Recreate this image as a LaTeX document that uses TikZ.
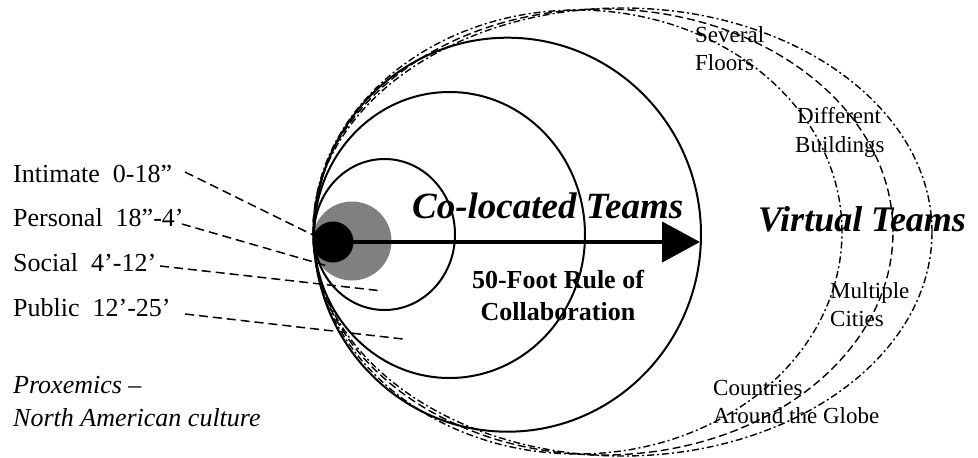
\documentclass[tikz,border=0pt]{standalone}
\usepackage{fontspec}
\setmainfont{Liberation Serif}
\usetikzlibrary{arrows.meta}
\tikzset{
  ring/.style={draw=black, line width=2pt},
  dashdotline/.style={draw=black, line width=1.4pt, dash pattern=on 7pt off 3pt on 2pt off 3pt},
  dashline/.style={draw=black, line width=1.4pt, dash pattern=on 8pt off 4pt},
  leader/.style={draw=black, line width=1.5pt, dash pattern=on 9pt off 5pt},
  lbl/.style={anchor=base west, inner sep=0pt, font=\fontsize{26}{31}\selectfont},
  small/.style={anchor=base west, inner sep=0pt, font=\fontsize{23}{27}\selectfont},
  big/.style={anchor=base west, inner sep=0pt, font=\fontsize{37}{44}\selectfont\bfseries\itshape},
  rule/.style={anchor=base, inner sep=0pt, font=\fontsize{26}{31}\selectfont\bfseries},
  mainarrow/.style={draw=black, line width=4.5pt, -{Triangle[length=38pt,width=40pt]}}
}
\begin{document}
\begin{tikzpicture}[x=1pt,y=-1pt]
\useasboundingbox (0,0) rectangle (978,458);
% proximity discs
\node[circle, fill=black!50, minimum size=79pt, inner sep=0pt] (gray) at (352,241) {};
\node[circle, fill=black, minimum size=41pt, inner sep=0pt] (dot) at (333,242) {};
% solid circles
\draw[ring] (384.5,234.5) ellipse [x radius=70.5pt, y radius=75.5pt];
\draw[ring] (449.5,235) ellipse [x radius=135.5pt, y radius=143pt];
\draw[ring] (507.5,234.7) ellipse [x radius=193.5pt, y radius=197pt];
% dashed ellipses
\draw[dashdotline] (577.5,232) ellipse [x radius=264.5pt, y radius=222pt];
\draw[dashline] (603,232) ellipse [x radius=290pt, y radius=223pt];
\draw[dashdotline] (622.5,232) ellipse [x radius=309.5pt, y radius=224pt];
% arrow
\coordinate (tip) at (700,242);
\draw[mainarrow] (dot.center) -- (tip);
% left labels
\node[lbl] (intimate) at (13,182) {Intimate\ \ 0-18”};
\node[lbl] (personal) at (13,226) {Personal\ \ 18”-4’};
\node[lbl] (social) at (13,271.5) {Social\ \ 4’-12’};
\node[lbl] (public) at (13,316.5) {Public\ \ 12’-25’};
\coordinate (i1) at (185,172); \coordinate (i2) at (313,235);
\coordinate (p1) at (182,224); \coordinate (p2) at (330,266.7);
\coordinate (s1) at (160,266); \coordinate (s2) at (380,290.7);
\coordinate (u1) at (185,314); \coordinate (u2) at (403,339);
\draw[leader] (i1) -- (i2);
\draw[leader] (p1) -- (p2);
\draw[leader] (s1) -- (s2);
\draw[leader] (u1) -- (u2);
\node[lbl, font=\fontsize{26}{31}\selectfont\itshape] (prox1) at (13,393) {Proxemics –};
\node[lbl, font=\fontsize{26}{31}\selectfont\itshape] (prox2) at (13,426) {North American culture};
% main titles
\node[big] (colocated) at (412,218) {Co-located Teams};
\node[big, font=\fontsize{36}{43}\selectfont\bfseries\itshape] (virtual) at (758,231) {Virtual Teams};
\node[rule] (rule1) at (558,288) {50-Foot Rule of};
\node[rule] (rule2) at (558,320) {Collaboration};
% ring labels
\node[small] (several) at (695,42) {Several};
\node[small] (floors) at (695,70) {Floors};
\node[small] (different) at (797,123) {Different};
\node[small] (buildings) at (795,152) {Buildings};
\node[small] (multiple) at (830,298) {Multiple};
\node[small] (cities) at (830,326) {Cities};
\node[small] (countries) at (713,395) {Countries};
\node[small] (around) at (713,423) {Around the Globe};
\end{tikzpicture}
\end{document}
